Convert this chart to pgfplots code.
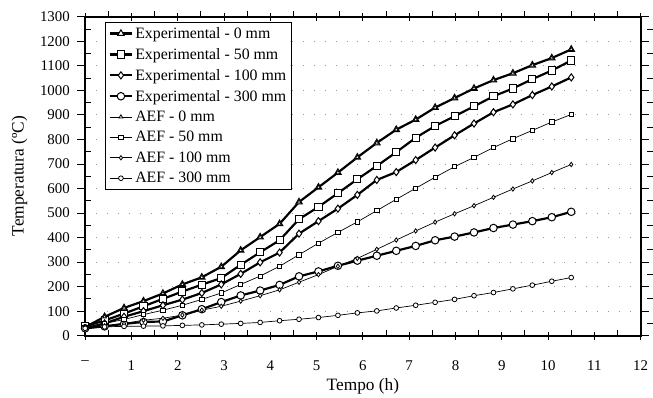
\documentclass[border=0pt]{standalone}
\usepackage{pgfplots}
\pgfplotsset{compat=1.18}
\usepackage{pgfplotstable}
\usepackage{fontspec}
\setmainfont{Liberation Serif}
\pgfplotstableread{
t e0 e50 e100 e300 a0 a50 a100 a300
0 35 38 30 30 35 35 30 30
0.42 77 62 50 38 77 50 40 36
0.84 113 90 77 48 113 66 50 38
1.26 141 120 100 56 141 86 63 39
1.68 172 150 124 58 172 104 71 40
2.10 209 180 147 83 209 124 84 42
2.52 238 208 174 108 238 148 104 44
2.94 281 235 209 137 281 174 120 47
3.36 348 289 252 164 348 209 141 50
3.78 402 340 299 184 402 243 163 54
4.20 456 389 339 207 456 283 187 61
4.62 545 475 416 242 545 330 218 67
5.04 605 525 467 262 605 377 249 74
5.46 665 581 518 285 665 421 283 83
5.88 727 638 574 306 727 464 315 93
6.30 786 692 635 326 786 510 352 101
6.72 840 748 667 346 840 556 390 113
7.14 881 807 716 366 881 601 427 124
7.56 930 855 767 389 930 646 463 136
7.98 969 895 817 404 969 689 497 148
8.40 1008 935 865 421 1008 727 530 163
8.82 1042 976 911 439 1042 767 564 176
9.24 1070 1008 943 453 1070 803 598 191
9.66 1103 1046 981 467 1103 837 631 206
10.08 1132 1081 1016 483 1132 871 665 222
10.50 1167 1122 1053 505 1167 902 698 237
}\data
\begin{document}
\begin{tikzpicture}
\begin{axis}[
  scale only axis,
  width=561pt, height=322pt,
  xmin=0, xmax=12, ymin=0, ymax=1300,
  xtick={0,1,...,12},
  xticklabels={–,1,2,3,4,5,6,7,8,9,10,11,12},
  ytick={0,100,...,1300},
  minor x tick num=1, minor y tick num=1,
  tick style={black, line width=0.9pt},
  major tick length=8pt, minor tick length=6pt,
  xtick align=center,
  ytick align=outside,
  minor x tick style={yshift=3pt},
  minor y tick style={xshift=6pt},
  every x tick label/.append style={yshift=-18pt},
  every y tick label/.append style={xshift=-4pt},
  /pgf/number format/assume math mode=true,
  /pgf/number format/set thousands separator={},
  ymajorgrids,
  major grid style={gray!80, line width=0.9pt, dash pattern=on 1pt off 10pt},
  axis line style={line width=0.8pt},
  every outer x axis line/.append style={line width=1.8pt},
  every outer y axis line/.append style={line width=1.8pt},
  ticklabel style={font=\fontsize{15}{17}\selectfont},
  label style={font=\fontsize{17.5}{20}\selectfont},
  xlabel={Tempo (h)}, ylabel={Temperatura (ºC)},
  xlabel style={yshift=-1pt},
  ylabel style={yshift=6pt},
  legend style={at={(0.036,0.984)}, anchor=north west, draw=black, line width=0.9pt,
    font=\fontsize{16}{18}\selectfont, row sep=4.5pt, inner sep=3pt,
    cells={anchor=west}},
  legend cell align=left,
  legend image code/.code={\draw[mark repeat=2,mark phase=2,#1] plot coordinates {(0cm,0cm) (0.4cm,0cm) (0.8cm,0cm)};},
]
\pgfplotsset{
  exps/.style={black, line width=2.2pt, mark size=#1, every mark/.append style={fill=white, line width=1pt, solid}},
  aefs/.style={black, line width=0.7pt, mark size=#1, every mark/.append style={fill=white, line width=0.8pt, solid}},
}
\addplot[exps=3.8pt, mark=triangle*] table[x=t,y=e0]{\data};
\addlegendentry{Experimental - 0 mm}
\addplot[exps=3.6pt, mark=square*] table[x=t,y=e50]{\data};
\addlegendentry{Experimental - 50 mm}
\addplot[exps=3.6pt, mark=diamond*] table[x=t,y=e100]{\data};
\addlegendentry{Experimental - 100 mm}
\addplot[exps=3.8pt, mark=*] table[x=t,y=e300]{\data};
\addlegendentry{Experimental - 300 mm}
\addplot[aefs=2.2pt, mark=triangle*] table[x=t,y=a0]{\data};
\addlegendentry{AEF - 0 mm}
\addplot[aefs=2.2pt, mark=square*] table[x=t,y=a50]{\data};
\addlegendentry{AEF - 50 mm}
\addplot[aefs=2.2pt, mark=diamond*] table[x=t,y=a100]{\data};
\addlegendentry{AEF - 100 mm}
\addplot[aefs=2.4pt, mark=*] table[x=t,y=a300]{\data};
\addlegendentry{AEF - 300 mm}
\end{axis}
\path (current axis.south west) ++(-86pt,-58pt) coordinate (bbA);
\path (current axis.north east) ++(7pt,17pt) coordinate (bbB);
\useasboundingbox (bbA) rectangle (bbB);
\end{tikzpicture}
\end{document}
